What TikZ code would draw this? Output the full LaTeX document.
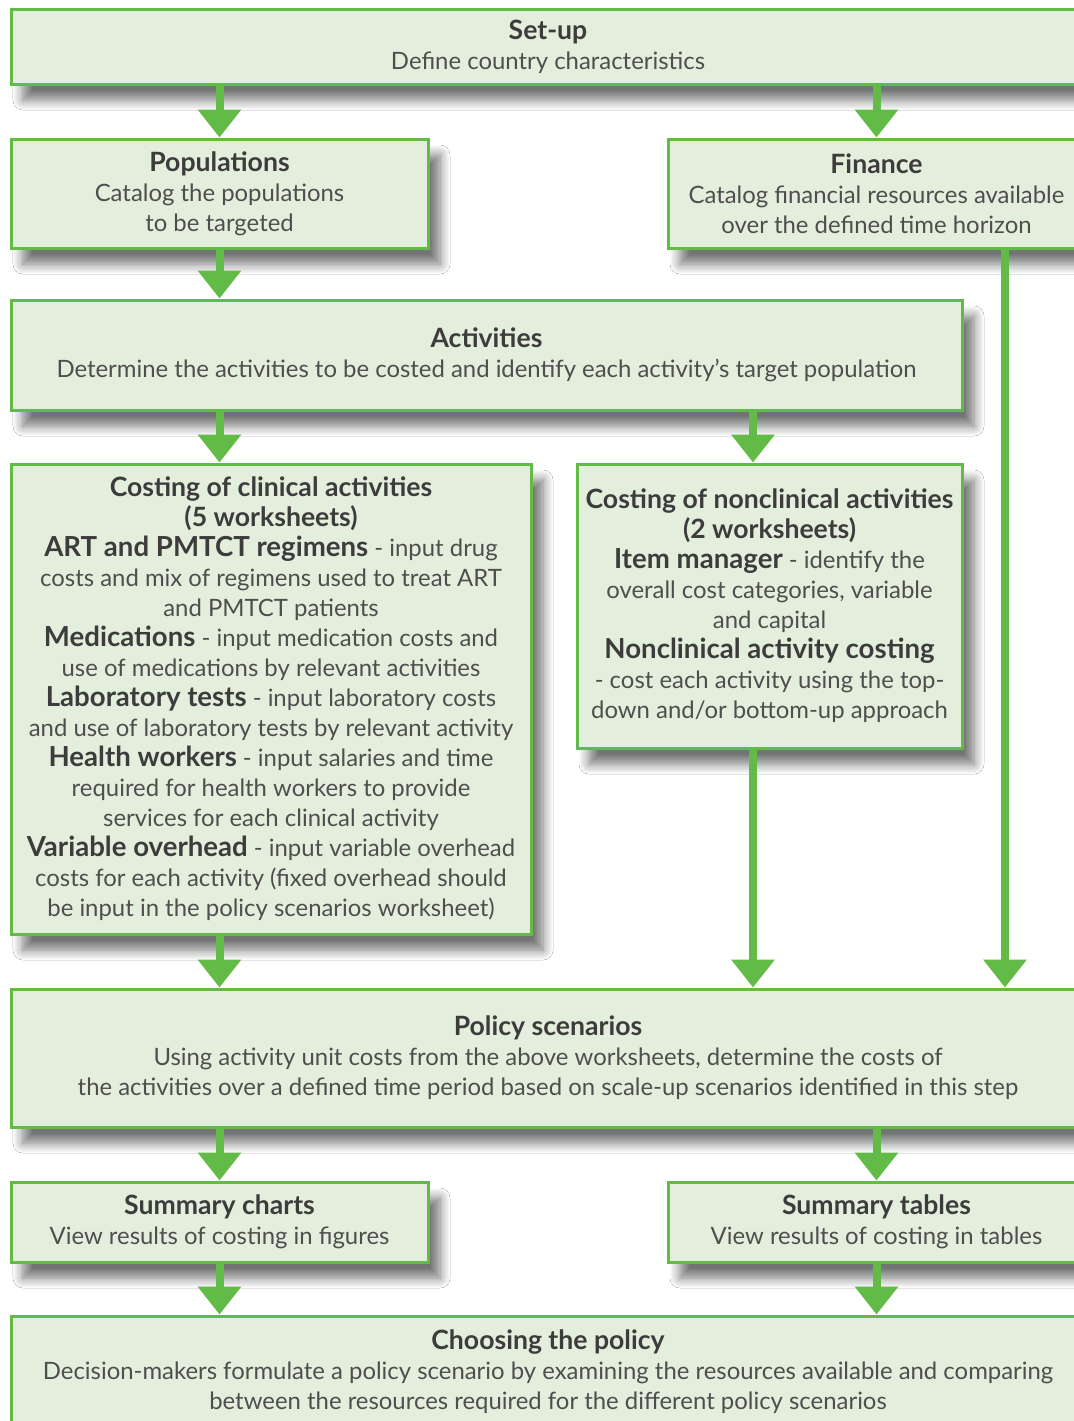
\documentclass[tikz,border=0pt]{standalone}
\usepackage{fontspec}
\setmainfont{Lato}
\usepackage{tikz}
\usetikzlibrary{positioning, arrows.meta, shadows.blur}

\definecolor{boxgreen}{RGB}{98,187,70}
\definecolor{boxfill}{RGB}{227,239,220}
\definecolor{boxtext}{RGB}{78,78,78}
\definecolor{headtext}{RGB}{60,60,60}
\newcommand{\ttl}[1]{{\fontsize{13.3}{15}\selectfont\bfseries\color{headtext}#1}}
\newcommand{\hd}[1]{{\fontsize{13.8}{15}\selectfont\bfseries\color{headtext}#1}}

\begin{document}
\begin{tikzpicture}[x=0.5pt, y=-0.5pt]
\tikzstyle{stage}=[draw=boxgreen, line width=1.5pt, fill=boxfill, text=boxtext, align=center, inner sep=0pt, font=\fontsize{11.95}{15}\selectfont, blur shadow={shadow xshift=6pt, shadow yshift=-8pt, shadow blur radius=5pt, shadow blur steps=10, shadow opacity=55}]
\tikzstyle{flow}=[boxgreen, line width=4pt, -{Triangle[width=21pt, length=14pt]}]

\clip (0,0) rectangle (1074,1421);
\fill [white] (0,0) rectangle (1074,1421);

\node [stage, minimum width=537pt, minimum height=37.5pt] at (548,46.5) (setup) {\ttl{Set-up}\\Define country characteristics};
\node [stage, minimum width=208.5pt, minimum height=54.5pt] at (219.5,193.5) (pop) {\ttl{Populations}\\Catalog the populations\\to be targeted};
\node [stage, minimum width=208.5pt, minimum height=54.5pt] at (876.5,193.5) (fin) {\ttl{Finance}\\Catalog financial resources available\\over the defined time horizon};
\node [stage, minimum width=475.5pt, minimum height=55pt] at (486.5,355) (act) {\ttl{Activities}\\Determine the activities to be costed and identify each activity's target population};

\node [stage, minimum width=260pt, minimum height=235pt] at (271,699) (clin) {\ttl{Costing of clinical activities}\\\ttl{(5 worksheets)}\\
  \hd{ART and PMTCT regimens} - input drug\\costs and mix of regimens used to treat ART\\and PMTCT patients\\
  \hd{Medications} - input medication costs and\\use of medications by relevant activities\\
  \hd{Laboratory tests} - input laboratory costs\\and use of laboratory tests by relevant activity\\
  \hd{Health workers} - input salaries and time\\required for health workers to provide\\services for each clinical activity\\
  \hd{Variable overhead} - input variable overhead\\costs for each activity (fixed overhead should\\be input in the policy scenarios worksheet)};
\node [stage, minimum width=192.5pt, minimum height=142pt] at (769.5,606) (nonc) {\ttl{Costing of nonclinical activities}\\\ttl{(2 worksheets)}\\
  \hd{Item manager} - identify the\\overall cost categories, variable\\and capital\\
  \hd{Nonclinical activity costing}\\- cost each activity using the top-\\down and/or bottom-up approach};

\node [stage, minimum width=537pt, minimum height=69pt] at (548,1058) (pol) {\ttl{Policy scenarios}\\Using activity unit costs from the above worksheets, determine the costs of\\the activities over a defined time period based on scale-up scenarios identified in this step};
\node [stage, minimum width=208.5pt, minimum height=40pt] at (219.5,1222) (chart) {\ttl{Summary charts}\\View results of costing in figures};
\node [stage, minimum width=208.5pt, minimum height=40pt] at (876.5,1222) (table) {\ttl{Summary tables}\\View results of costing in tables};
\node [stage, minimum width=537pt, minimum height=55.5pt] at (548,1371.5) (choose) {\ttl{Choosing the policy}\\Decision-makers formulate a policy scenario by examining the resources available and comparing\\between the resources required for the different policy scenarios};

%columns of the side arrows
\coordinate (nx) at (753,0);
\coordinate (fx) at (1005,0);

\path [flow] (setup.south -| pop) edge (pop.north);
\path [flow] (setup.south -| fin) edge (fin.north);
\path [flow] (pop.south) edge (act.north -| pop);
\path [flow] (fin.south -| fx) edge (pol.north -| fx);
\path [flow] (act.south -| pop) edge (clin.north -| pop);
\path [flow] (act.south -| nx) edge (nonc.north -| nx);
\path [flow] (clin.south -| pop) edge (pol.north -| pop);
\path [flow] (nonc.south -| nx) edge (pol.north -| nx);
\path [flow] (pol.south -| chart) edge (chart.north);
\path [flow] (pol.south -| table) edge (table.north);
\path [flow] (chart.south) edge (choose.north -| chart);
\path [flow] (table.south) edge (choose.north -| table);

\end{tikzpicture}
\end{document}
